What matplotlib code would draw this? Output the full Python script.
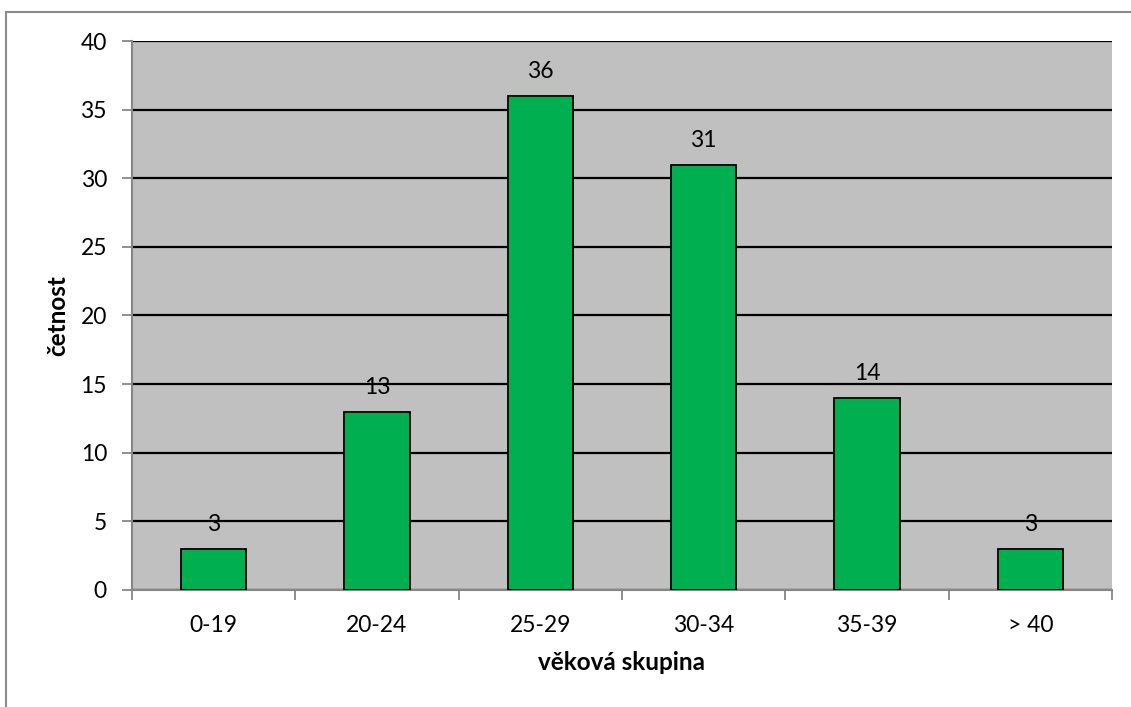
import matplotlib.pyplot as plt
from matplotlib.patches import Rectangle
from matplotlib.ticker import FixedLocator, NullFormatter

plt.rcParams['font.family'] = ['Lato', 'DejaVu Sans']

# age groups and their frequencies
groups = ['0-19', '20-24', '25-29', '30-34', '35-39', '> 40']
counts = [3, 13, 36, 31, 14, 3]

fig = plt.figure(figsize=(11.31, 7.07), dpi=100)
ax = fig.add_axes([0.1167, 0.1655, 0.8665, 0.7765])

# outer chart frame
fig.patches.append(Rectangle((6 / 1131, -0.05), 1.2, 1 - 12 / 707 + 0.05,
                             transform=fig.transFigure, fill=False,
                             edgecolor='#8c8c8c', linewidth=1.5))

ax.set_facecolor('#c0c0c0')
pos = [i + 0.5 for i in range(len(groups))]
bars = ax.bar(pos, counts, width=0.4, color='#00b050', edgecolor='black',
              linewidth=1.3, zorder=3)

for x, v in zip(pos, counts):
    ax.annotate(str(v), (x, v), xytext=(0, 10), textcoords='offset points',
                ha='center', va='bottom', fontsize=16.5, zorder=4)

ax.set_xlim(0, len(groups))
ax.set_ylim(0, 40)
ax.set_yticks(range(0, 41, 5))
ax.yaxis.grid(True, color='black', linewidth=1.6, zorder=1)
ax.set_axisbelow(True)

# ticks at category boundaries, labels at centers
ax.xaxis.set_major_locator(FixedLocator(range(len(groups) + 1)))
ax.xaxis.set_major_formatter(NullFormatter())
ax.xaxis.set_minor_locator(FixedLocator(pos))
ax.set_xticklabels(groups, minor=True)
ax.tick_params(axis='x', which='major', length=7, color='#868686', width=1.3)
ax.tick_params(axis='x', which='minor', length=0, pad=18, labelsize=16.5)
ax.tick_params(axis='y', length=7, color='#868686', width=1.3, pad=11,
               labelsize=16.5)

for side in ['top', 'right']:
    ax.spines[side].set_visible(False)
for side in ['left', 'bottom']:
    ax.spines[side].set_color('#868686')
    ax.spines[side].set_linewidth(1.5)

ax.set_ylabel('četnost', fontsize=17.5, fontweight='bold', labelpad=8)
ax.set_xlabel('věková skupina', fontsize=17.5, fontweight='bold', labelpad=11)

fig.savefig('out.png', dpi=100)
